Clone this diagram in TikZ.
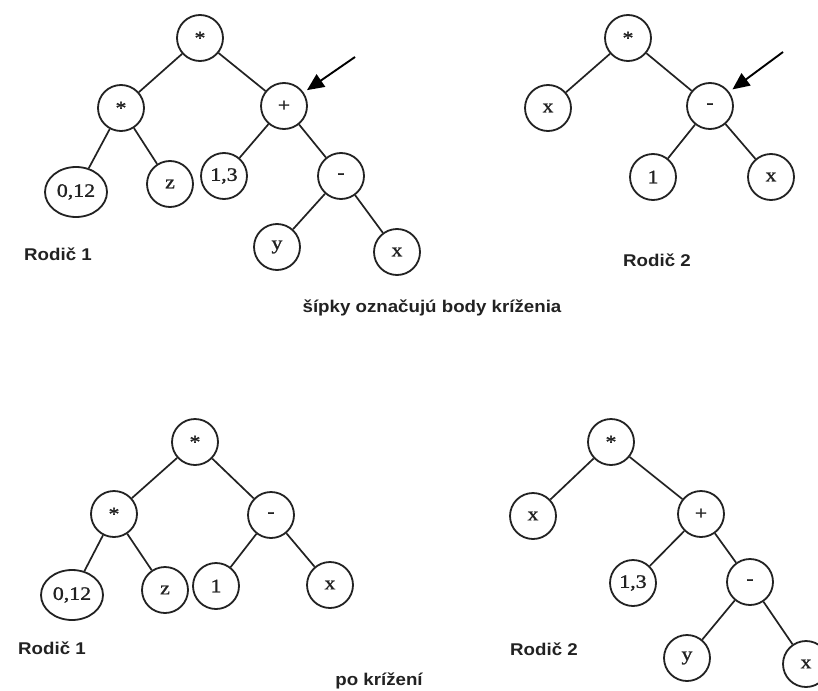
\documentclass[tikz,border=0pt]{standalone}
\usepackage{fontspec}
\usetikzlibrary{shapes.geometric,arrows.meta}
\setmainfont{Liberation Serif}
\newfontfamily\nodefont[FakeStretch=1.15,FakeBold=1.2]{Liberation Serif}
\newfontfamily\capfont[FakeStretch=1.1]{Liberation Sans}
\definecolor{ink}{HTML}{222222}
\tikzset{
  tn/.style={circle, draw=ink, line width=1.8pt, minimum size=46pt, inner sep=0pt,
    font=\nodefont\fontsize{19}{19}\selectfont, text=ink},
  te/.style={tn, ellipse, minimum width=62pt, minimum height=50pt},
  edge/.style={draw=ink, line width=1.7pt},
  pointer/.style={draw=black, line width=1.9pt, -{Triangle[length=17pt,width=15pt]}, shorten >=4pt},
  caption/.style={font=\capfont\bfseries\fontsize{17}{17}\selectfont, text=ink, inner sep=0pt}
}
\begin{document}
\begin{tikzpicture}[x=1pt,y=-1pt]
\useasboundingbox (0,0) rectangle (818,690);
\clip (0,0) rectangle (818,690);
\fill[white] (0,0) rectangle (818,690);

% ---- Rodič 1 (before crossover)
\node[tn] (p1)  at (200,38)  {*};
\node[tn] (p1a) at (121,108) {*};
\node[tn] (p1b) at (284,106) {+};
\node[te] (p1c) at (76,192)  {0,12};
\node[tn] (p1d) at (170,184) {z};
\node[tn] (p1e) at (224,176) {1,3};
\node[tn] (p1f) at (341,176) {-};
\node[tn] (p1g) at (277,247) {y};
\node[tn] (p1h) at (397,252) {x};
\foreach \a/\b in {p1/p1a,p1/p1b,p1a/p1c,p1a/p1d,p1b/p1e,p1b/p1f,p1f/p1g,p1f/p1h}
  \draw[edge] (\a) -- (\b);
\coordinate (s1) at (355,57);
\draw[pointer] (s1) -- (p1b);
\node[caption] (l1) at (58,254) {Rodič 1};

% ---- Rodič 2 (before crossover)
\node[tn] (p2)  at (628,38)  {*};
\node[tn] (p2a) at (548,108) {x};
\node[tn] (p2b) at (710,106) {-};
\node[tn] (p2c) at (653,177) {1};
\node[tn] (p2d) at (771,177) {x};
\foreach \a/\b in {p2/p2a,p2/p2b,p2b/p2c,p2b/p2d}
  \draw[edge] (\a) -- (\b);
\coordinate (s2) at (783,52);
\draw[pointer] (s2) -- (p2b);
\node[caption] (l2) at (657,260) {Rodič 2};

\node[caption] (note) at (432,308) {šípky označujú body kríženia};

% ---- Rodič 1 (after crossover)
\node[tn] (c1)  at (195,442) {*};
\node[tn] (c1a) at (114,514) {*};
\node[tn] (c1b) at (271,515) {-};
\node[te] (c1c) at (72,595)  {0,12};
\node[tn] (c1d) at (165,590) {z};
\node[tn] (c1e) at (216,586) {1};
\node[tn] (c1f) at (330,585) {x};
\foreach \a/\b in {c1/c1a,c1/c1b,c1a/c1c,c1a/c1d,c1b/c1e,c1b/c1f}
  \draw[edge] (\a) -- (\b);
\node[caption] (l3) at (52,648) {Rodič 1};

% ---- Rodič 2 (after crossover)
\node[tn] (c2)  at (611,442) {*};
\node[tn] (c2a) at (533,516) {x};
\node[tn] (c2b) at (701,514) {+};
\node[tn] (c2c) at (633,583) {1,3};
\node[tn] (c2d) at (750,582) {-};
\node[tn] (c2e) at (687,658) {y};
\node[tn] (c2f) at (806,664) {x};
\foreach \a/\b in {c2/c2a,c2/c2b,c2b/c2c,c2b/c2d,c2d/c2e,c2d/c2f}
  \draw[edge] (\a) -- (\b);
\node[caption] (l4) at (544,649) {Rodič 2};

\node[caption] (after) at (379,681) {po krížení};
\end{tikzpicture}
\end{document}
